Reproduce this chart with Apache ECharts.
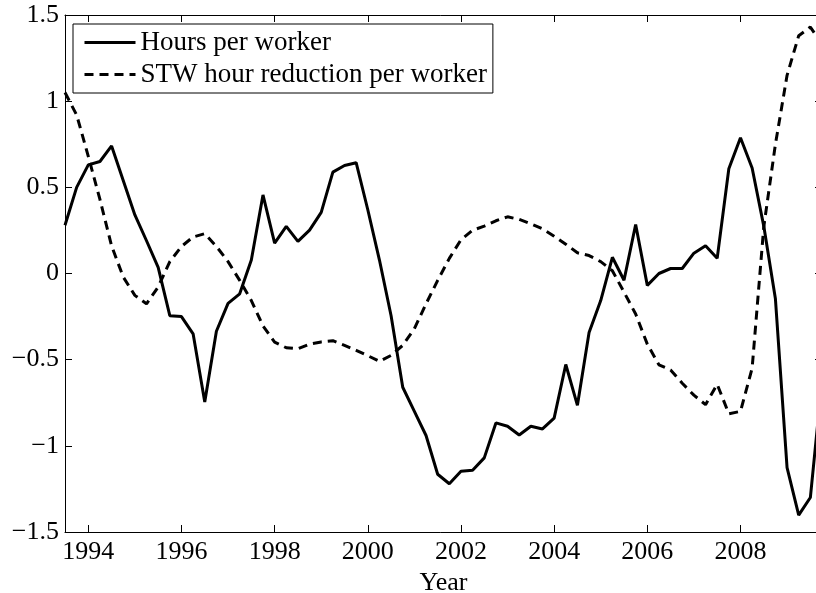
<!DOCTYPE html>
<html>
<head>
<meta charset="utf-8">
<script src="https://cdn.jsdelivr.net/npm/echarts@6/dist/echarts.min.js"></script>
<style>
  html, body { margin: 0; padding: 0; background: #fff; }
  #chart { width: 816px; height: 593px; }
</style>
</head>
<body>
<div id="chart"></div>
<script>
// Quarterly time points (year + quarter fraction)
const quarters = [
  1993.5, 1993.75,
  1994.0, 1994.25, 1994.5, 1994.75,
  1995.0, 1995.25, 1995.5, 1995.75,
  1996.0, 1996.25, 1996.5, 1996.75,
  1997.0, 1997.25, 1997.5, 1997.75,
  1998.0, 1998.25, 1998.5, 1998.75,
  1999.0, 1999.25, 1999.5, 1999.75,
  2000.0, 2000.25, 2000.5, 2000.75,
  2001.0, 2001.25, 2001.5, 2001.75,
  2002.0, 2002.25, 2002.5, 2002.75,
  2003.0, 2003.25, 2003.5, 2003.75,
  2004.0, 2004.25, 2004.5, 2004.75,
  2005.0, 2005.25, 2005.5, 2005.75,
  2006.0, 2006.25, 2006.5, 2006.75,
  2007.0, 2007.25, 2007.5, 2007.75,
  2008.0, 2008.25, 2008.5, 2008.75,
  2009.0, 2009.25, 2009.5, 2009.75
];

// Hours per worker
const hoursPerWorker = [
  0.28, 0.50,
  0.63, 0.65, 0.74, 0.54,
  0.34, 0.19, 0.035, -0.245,
  -0.25, -0.35, -0.745, -0.335,
  -0.173, -0.118, 0.078, 0.456,
  0.176, 0.273, 0.186, 0.252,
  0.355, 0.588, 0.627, 0.643,
  0.37, 0.078, -0.245, -0.66,
  -0.80, -0.94, -1.165, -1.22,
  -1.148, -1.142, -1.07, -0.867,
  -0.886, -0.937, -0.886, -0.902,
  -0.839, -0.528, -0.765, -0.343,
  -0.157, 0.094, -0.039, 0.284,
  -0.069, 0.0, 0.029, 0.029,
  0.118, 0.161, 0.088, 0.608,
  0.788, 0.612, 0.275, -0.147,
  -1.127, -1.402, -1.30, -0.62
];

// STW hour reduction per worker
const stwReduction = [
  1.05, 0.92,
  0.68, 0.43, 0.16, -0.02,
  -0.127, -0.176, -0.078, 0.069,
  0.157, 0.212, 0.231, 0.157,
  0.069, -0.04, -0.157, -0.304,
  -0.398, -0.431, -0.437, -0.41,
  -0.397, -0.39, -0.417, -0.446,
  -0.477, -0.51, -0.475, -0.417,
  -0.32, -0.176, -0.04, 0.088,
  0.196, 0.251, 0.275, 0.306,
  0.329, 0.314, 0.288, 0.259,
  0.216, 0.17, 0.12, 0.104,
  0.069, 0.016, -0.108, -0.235,
  -0.41, -0.53, -0.56, -0.637,
  -0.706, -0.761, -0.643, -0.814,
  -0.80, -0.55, 0.27, 0.75,
  1.15, 1.38, 1.43, 1.33
];

const xTickYears = [1994, 1996, 1998, 2000, 2002, 2004, 2006, 2008];
const seriesNames = ['Hours per worker', 'STW hour reduction per worker'];

const FONT = 'Liberation Serif';
const fmtY = v => String(v).replace('-', '\u2212');

const chart = echarts.init(document.getElementById('chart'), null, { renderer: 'canvas' });

const xMin = 1993.5, xMax = 2009.75;

chart.setOption({
  animation: false,
  backgroundColor: '#fff',
  grid: { left: 65, top: 15, width: 757, height: 517, containLabel: false, outerBoundsMode: 'none' },
  legend: {
    data: seriesNames,
    orient: 'vertical',
    left: 73,
    top: 24,
    itemWidth: 51,
    itemHeight: 14,
    itemGap: 5,
    padding: [5, 6, 5, 10],
    borderColor: '#000',
    borderWidth: 1,
    borderRadius: 0,
    backgroundColor: '#fff',
    itemStyle: { opacity: 0 },
    lineStyle: { width: 3 },
    textStyle: { fontFamily: FONT, fontSize: 27, color: '#000' }
  },
  xAxis: [
    {
      type: 'value', position: 'bottom', min: xMin, max: xMax,
      axisLine: { show: true, onZero: false, lineStyle: { color: '#000', width: 1 } },
      axisTick: { show: true, inside: true, length: 7, customValues: xTickYears, lineStyle: { color: '#000' } },
      axisLabel: { customValues: xTickYears, formatter: v => String(Math.round(v)), fontFamily: FONT, fontSize: 26, color: '#000', margin: 7 },
      splitLine: { show: false },
      name: 'Year', nameLocation: 'middle', nameGap: 31,
      nameTextStyle: { fontFamily: FONT, fontSize: 26, color: '#000' }
    },
    {
      type: 'value', position: 'top', min: xMin, max: xMax,
      axisLine: { show: true, onZero: false, lineStyle: { color: '#000', width: 1 } },
      axisTick: { show: true, inside: true, length: 7, customValues: xTickYears, lineStyle: { color: '#000' } },
      axisLabel: { show: false },
      splitLine: { show: false }
    }
  ],
  yAxis: [
    {
      type: 'value', position: 'left', min: -1.5, max: 1.5, interval: 0.5,
      axisLine: { show: true, onZero: false, lineStyle: { color: '#000', width: 1 } },
      axisTick: { show: true, inside: true, length: 7, lineStyle: { color: '#000' } },
      axisLabel: { formatter: fmtY, fontFamily: FONT, fontSize: 26, color: '#000', margin: 6 },
      splitLine: { show: false }
    },
    {
      type: 'value', position: 'right', min: -1.5, max: 1.5, interval: 0.5,
      axisLine: { show: true, onZero: false, lineStyle: { color: '#000', width: 1 } },
      axisTick: { show: true, inside: true, length: 7, lineStyle: { color: '#000' } },
      axisLabel: { show: false },
      splitLine: { show: false }
    }
  ],
  series: [
    {
      name: seriesNames[0], type: 'line', xAxisIndex: 0, yAxisIndex: 0,
      symbol: 'none', clip: true,
      data: quarters.map((q, i) => [q, hoursPerWorker[i]]),
      lineStyle: { color: '#000', width: 3, type: 'solid' },
      itemStyle: { color: '#000' }
    },
    {
      name: seriesNames[1], type: 'line', xAxisIndex: 0, yAxisIndex: 0,
      symbol: 'none', clip: true,
      data: quarters.map((q, i) => [q, stwReduction[i]]),
      lineStyle: { color: '#000', width: 3, type: [9, 6] },
      itemStyle: { color: '#000' }
    }
  ]
});
</script>
</body>
</html>
